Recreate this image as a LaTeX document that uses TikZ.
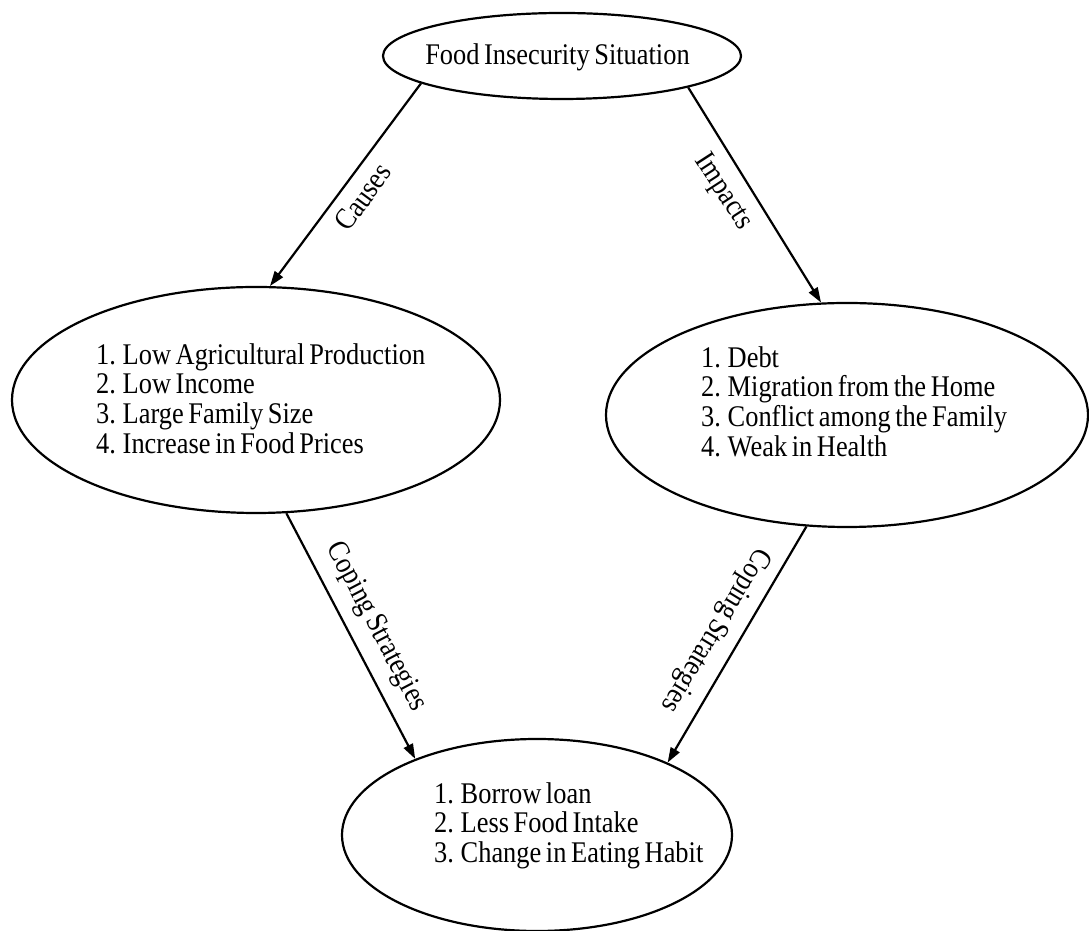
\documentclass[tikz,border=0pt]{standalone}
\usepackage{fontspec}
\setmainfont{Liberation Serif}[FakeStretch=0.88, WordSpace=0.7]
\usetikzlibrary{arrows.meta,shapes.geometric}
\begin{document}
\begin{tikzpicture}[
  x=1pt, y=1pt,
  line width=2.2pt,
  bubble/.style={draw, ellipse, inner sep=0pt},
  itemlist/.style={align=left, anchor=north west, inner sep=0pt},
  edgelabel/.style={inner sep=0pt},
  flow/.style={-{Triangle[length=15pt,width=10pt]}},
  every node/.style={font=\fontsize{30pt}{29.6pt}\selectfont}
]
  \useasboundingbox (0,0) rectangle (1089,931);
  % ---- ellipses ----
  \node[bubble, minimum width=358pt, minimum height=86pt]  (situation) at (562,875) {};
  \node[bubble, minimum width=488pt, minimum height=226pt] (causes)    at (256,531) {};
  \node[bubble, minimum width=482pt, minimum height=224pt] (impacts)   at (847,516) {};
  \node[bubble, minimum width=390pt, minimum height=192pt] (coping)    at (537,96)  {};
  % ---- texts in the ellipses ----
  \node[inner sep=0pt] (situationTxt) at (557.5,874.1) {Food Insecurity Situation};
  \node[itemlist] (causesList) at (95,588.7)
    {1. Low Agricultural Production\\2. Low Income\\3. Large Family Size\\4. Increase in Food Prices};
  \node[itemlist] (impactsList) at (700,585.7)
    {1. Debt\\2. Migration from the Home\\3. Conflict among the Family\\4. Weak in Health};
  \node[itemlist] (copingList) at (433,149.7)
    {1. Borrow loan\\2. Less Food Intake\\3. Change in Eating Habit};
  % ---- arrows ----
  \draw[flow] (situation.191.2) -- (causes.83.4);
  \draw[flow] (situation.-14.9) -- (impacts.103.1);
  \draw[flow] (causes.-75.5)    -- (coping.148.3);
  \draw[flow] (impacts.250.8)   -- (coping.29.7);
  % ---- arrow labels ----
  \node[edgelabel, rotate=53.8]   (causesLbl)   at (363,734) {Causes};
  \node[edgelabel, rotate=-57.1]  (impactsLbl)  at (723,739) {Impacts};
  \node[edgelabel, rotate=-62.3]  (copingLblL)  at (376,304) {Coping Strategies};
  \node[edgelabel, rotate=-121.3] (copingLblR)  at (715,301) {Coping Strategies};
\end{tikzpicture}
\end{document}
